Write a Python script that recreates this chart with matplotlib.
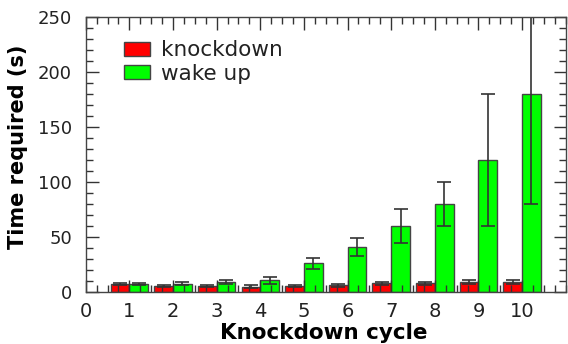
import matplotlib
matplotlib.use("Agg")
import matplotlib.pyplot as plt
import numpy as np
from matplotlib.ticker import MultipleLocator

cycles = [1, 2, 3, 4, 5, 6, 7, 8, 9, 10]
knockdown = [7, 5.5, 5.5, 5, 5.5, 6, 8, 8, 9, 9]
knockdown_err = [1, 1, 1, 1, 1, 1.5, 1.5, 1.5, 1.5, 1.5]
wakeup = [7, 7.5, 9, 10.5, 26, 41, 60, 80, 120, 180]
wakeup_err = [1, 1.5, 2, 3, 5, 8, 15, 20, 60, 100]
xticks = [0, 1, 2, 3, 4, 5, 6, 7, 8, 9, 10]

fig = plt.figure(figsize=(5.68, 3.44), dpi=100)
ax = fig.add_axes([0.151, 0.151, 0.845, 0.80])

x = np.array(cycles, dtype=float)
w = 0.43
ek = dict(ecolor="#333333", elinewidth=1.2, capsize=5, capthick=1.2)
ax.bar(x, knockdown, width=-w, align="edge", color="#ff0000", edgecolor="#444444",
       linewidth=1, yerr=knockdown_err, error_kw=ek, label="knockdown")
ax.bar(x, wakeup, width=w, align="edge", color="#00ff00", edgecolor="#444444",
       linewidth=1, yerr=wakeup_err, error_kw=ek, label="wake up")

ax.set_xlim(0, 11)
ax.set_ylim(0, 250)
ax.set_xticks(xticks)
ax.set_xticklabels([str(t) for t in xticks])
ax.set_yticks([0, 50, 100, 150, 200, 250])
ax.xaxis.set_minor_locator(MultipleLocator(0.25))
ax.yaxis.set_minor_locator(MultipleLocator(10))
ax.tick_params(which="both", direction="in", top=True, right=True, colors="#333333",
               labelcolor="#222222", width=1)
ax.tick_params(which="major", length=9)
ax.tick_params(which="minor", length=5)
ax.tick_params(axis="x", pad=7, labelsize=14)
ax.tick_params(axis="y", pad=10, labelsize=13)
for s in ax.spines.values():
    s.set_color("#444444")
    s.set_linewidth(1)

ax.set_xlabel("Knockdown cycle", fontsize=15.5, fontweight="bold")
ax.xaxis.set_label_coords(0.495, -0.112)
ax.set_ylabel("Time required (s)", fontsize=15, fontweight="bold")
ax.yaxis.set_label_coords(-0.121, 0.527)

leg = ax.legend(loc="upper left", bbox_to_anchor=(0.04, 0.985), frameon=False,
                fontsize=15.5, handlelength=1.2, handleheight=0.6, handletextpad=0.5,
                labelspacing=0.15)
for t in leg.get_texts():
    t.set_color("#222222")

fig.savefig("out.png", dpi=100)
